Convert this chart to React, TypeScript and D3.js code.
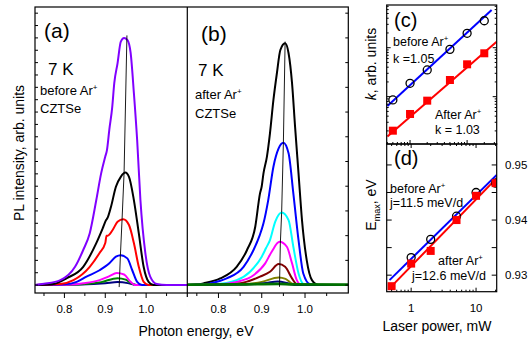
import React, { useEffect, useRef } from 'react';
import * as d3 from 'd3';

// ---- spectra, panel (a): before Ar+ (photon energy eV, PL intensity arb.)
const purpleA = [[0.728,0],[0.75,0.005],[0.79,0.02],[0.826,0.074],[0.846,0.142],[0.862,0.21],[0.878,0.344],[0.89,0.453],[0.9,0.52],[0.904,0.545],[0.91,0.63],[0.917,0.72],[0.922,0.817],[0.93,0.897],[0.938,0.985],[0.946,1.0],[0.954,0.992],[0.962,0.94],[0.97,0.777],[0.978,0.587],[0.986,0.344],[0.998,0.13],[1.01,0.034],[1.026,0.004],[1.05,0],[1.1,0]];
const blackA = [[0.728,0],[0.77,0.003],[0.806,0.028],[0.846,0.074],[0.878,0.17],[0.895,0.235],[0.902,0.263],[0.905,0.27],[0.914,0.317],[0.926,0.398],[0.938,0.438],[0.949,0.455],[0.958,0.438],[0.97,0.344],[0.982,0.21],[0.994,0.073],[1.006,0.013],[1.018,0],[1.1,0]];
const redA = [[0.728,0],[0.79,0.004],[0.822,0.02],[0.862,0.074],[0.886,0.13],[0.9,0.17],[0.903,0.2],[0.906,0.2],[0.918,0.223],[0.93,0.256],[0.944,0.266],[0.958,0.243],[0.97,0.17],[0.982,0.074],[0.994,0.013],[1.006,0],[1.1,0]];
const blueA = [[0.728,0],[0.8,0.003],[0.83,0.013],[0.854,0.034],[0.886,0.06],[0.91,0.088],[0.926,0.115],[0.938,0.121],[0.954,0.108],[0.966,0.06],[0.978,0.013],[0.99,0],[1.1,0]];
const magentaA = [[0.728,0],[0.82,0.002],[0.846,0.007],[0.886,0.02],[0.91,0.036],[0.928,0.049],[0.946,0.043],[0.962,0.013],[0.974,0],[1.1,0]];
const greenA = [[0.728,0],[0.83,0.002],[0.89,0.012],[0.93,0.028],[0.95,0.022],[0.965,0.006],[0.978,0],[1.1,0]];
const navyA = [[0.728,0],[0.84,0.002],[0.9,0.007],[0.93,0.012],[0.955,0.008],[0.97,0.002],[0.98,0],[1.1,0]];
const peakLineA = [[0.934,-0.008],[0.937,0.12],[0.941,0.263],[0.946,0.453],[0.953,1.01]];

// ---- spectra, panel (b): after Ar+
const blackB = [[0.728,0],[0.75,0.002],[0.765,0.007],[0.804,0.027],[0.842,0.074],[0.866,0.142],[0.885,0.236],[0.896,0.371],[0.9,0.4],[0.904,0.452],[0.912,0.52],[0.919,0.614],[0.927,0.749],[0.935,0.857],[0.943,0.951],[0.954,0.978],[0.962,0.938],[0.97,0.817],[0.977,0.641],[0.985,0.452],[0.993,0.263],[1.004,0.1],[1.016,0.02],[1.031,0],[1.1,0]];
const blueB = [[0.728,0],[0.76,0.002],[0.78,0.007],[0.819,0.027],[0.858,0.074],[0.881,0.142],[0.895,0.2],[0.904,0.25],[0.915,0.344],[0.927,0.479],[0.939,0.553],[0.95,0.576],[0.962,0.533],[0.973,0.371],[0.985,0.182],[0.996,0.047],[1.012,0.003],[1.03,0],[1.1,0]];
const cyanB = [[0.728,0],[0.79,0.003],[0.842,0.02],[0.873,0.054],[0.9,0.115],[0.91,0.15],[0.919,0.182],[0.931,0.256],[0.946,0.294],[0.962,0.263],[0.973,0.155],[0.985,0.047],[0.996,0.005],[1.01,0],[1.1,0]];
const magentaB = [[0.728,0],[0.8,0.003],[0.842,0.013],[0.881,0.04],[0.908,0.088],[0.923,0.135],[0.941,0.175],[0.958,0.155],[0.97,0.088],[0.981,0.02],[0.992,0],[1.1,0]];
const brownB = [[0.728,0],[0.82,0.003],[0.864,0.013],[0.896,0.034],[0.919,0.054],[0.939,0.085],[0.954,0.074],[0.97,0.027],[0.981,0.003],[0.99,0],[1.1,0]];
const oliveB = [[0.728,0],[0.84,0.002],[0.9,0.013],[0.939,0.031],[0.955,0.025],[0.97,0.006],[0.985,0],[1.1,0]];
const navyB = [[0.728,0],[0.86,0.002],[0.91,0.008],[0.937,0.015],[0.955,0.01],[0.97,0.002],[0.98,0],[1.1,0]];
const greenB = [[0.728,0.002],[0.85,0.003],[0.94,0.005],[0.97,0.003],[1.1,0.002]];
const peakLineB = [[0.941,-0.007],[0.943,0.17],[0.946,0.294],[0.95,0.576],[0.954,0.985]];

// ---- panel (c): k vs laser power
const powers = [0.5, 1, 2, 5, 10, 20];
const kBefore = [857, 1876, 3510, 9250, 19700, 35500];
const kAfter = [202, 443, 829, 2190, 4580, 7690];
const fitKBefore = [[0.402, 646], [26.9, 58700]];
const fitKAfter = [[0.402, 153], [32.9, 13300]];

// ---- panel (d): Emax vs laser power
const powersBeforeE = [1, 2, 5, 10, 20];
const emaxBefore = [0.9332, 0.9365, 0.9407, 0.945, 0.9467];
const emaxAfter = [0.928, 0.9321, 0.9344, 0.94, 0.9444, 0.9467];
const fitEBefore = [[0.464, 0.9291], [20.8, 0.9482]];
const fitEAfter = [[0.464, 0.9276], [20.8, 0.9476]];

const energyTicks = [0.75, 0.8, 0.85, 0.9, 0.95, 1.0, 1.05];
const energyLabels = [0.8, 0.9, 1.0];
const emaxTicks = [0.93, 0.935, 0.94, 0.945, 0.95];
const emaxLabels = [0.93, 0.94, 0.95];

const FONT = '"Liberation Sans", Arial, sans-serif';

const App = () => {
  const svgRef = useRef(null);

  useEffect(() => {
    const svg = d3.select(svgRef.current);
    svg.selectAll('*').remove();

    const xA = d3.scaleLinear().domain([0.728, 1.1]).range([35, 187]);
    const xB = d3.scaleLinear().domain([0.728, 1.1]).range([187.3, 348.3]);
    const yS = d3.scaleLinear().domain([-0.032, 1.125]).range([293, 7]);
    const xC = d3.scaleLog().domain([0.39, 33]).range([386.7, 496.7]);
    const yC = d3.scaleLog().domain([108, 74500]).range([144, 5]);
    const xD = d3.scaleLog().domain([0.42, 20.8]).range([386.7, 496.7]);
    const yD = d3.scaleLinear().domain([0.927, 0.9538]).range([291.7, 144]);

    const defs = svg.append('defs');
    const clip = (id, x, y, w, h) => defs.append('clipPath').attr('id', id)
      .append('rect').attr('x', x).attr('y', y).attr('width', w).attr('height', h);
    clip('clipA', 35, 7, 152, 286);
    clip('clipB', 187.3, 7, 161, 286);
    clip('clipC', 386.7, 5, 110, 139);
    clip('clipD', 386.7, 144, 110, 147.7);

    const txt = (x, y, s, size, anchor = 'start') => svg.append('text')
      .attr('x', x).attr('y', y).attr('text-anchor', anchor)
      .style('font-family', FONT).style('font-size', size + 'px').style('fill', '#000')
      .text(s);

    const arText = (x, y, word, size) => {
      const t = txt(x, y, word + ' Ar', size);
      t.append('tspan').attr('dy', -size * 0.42).style('font-size', (size * 0.62) + 'px').text('+');
      return t;
    };

    // spectra
    const specPanel = (curves, x, clipId, peakLine) => {
      const g = svg.append('g').attr('clip-path', `url(#${clipId})`);
      const line = d3.line().x(d => x(d[0])).y(d => yS(d[1])).curve(d3.curveMonotoneX);
      curves.forEach(c => {
        g.append('path').datum(c.data).attr('d', line)
          .attr('fill', 'none').attr('stroke', c.color)
          .attr('stroke-width', c.w || 2).attr('stroke-linejoin', 'round');
      });
      const pl = d3.line().x(d => x(d[0])).y(d => yS(d[1]));
      g.append('path').datum(peakLine).attr('d', pl)
        .attr('fill', 'none').attr('stroke', '#000').attr('stroke-width', 0.9);
    };

    specPanel([
      { data: navyA, color: '#000080' },
      { data: greenA, color: '#008000' },
      { data: magentaA, color: '#ff00ff' },
      { data: blueA, color: '#0000ff' },
      { data: redA, color: '#ff0000' },
      { data: blackA, color: '#000000' },
      { data: purpleA, color: '#8000ff' },
    ], xA, 'clipA', peakLineA);

    specPanel([
      { data: blackB, color: '#000000' },
      { data: blueB, color: '#0000ff' },
      { data: cyanB, color: '#00ffff' },
      { data: magentaB, color: '#ff00ff' },
      { data: brownB, color: '#800000' },
      { data: oliveB, color: '#808000' },
      { data: navyB, color: '#000080' },
      { data: greenB, color: '#007000', w: 2.6 },
    ], xB, 'clipB', peakLineB);

    const tick = (x1, y1, x2, y2) => svg.append('line')
      .attr('x1', x1).attr('y1', y1).attr('x2', x2).attr('y2', y2)
      .attr('stroke', '#000').attr('stroke-width', 1);

    // energy axes
    [xA, xB].forEach(x => {
      energyTicks.forEach(v => {
        const major = energyLabels.some(l => Math.abs(l - v) < 1e-6);
        tick(x(v), 293, x(v), 293 + (major ? 5 : 3));
      });
      energyLabels.forEach(v => txt(x(v), 313, d3.format('.1f')(v), 11.5, 'middle'));
    });
    d3.range(0, 1.11, 0.05).forEach(v => tick(35, yS(v), 38, yS(v)));
    d3.range(0, 1.11, 0.1).forEach(v => tick(348.3, yS(v), 345.3, yS(v)));

    // frames a, b
    svg.append('rect').attr('x', 35).attr('y', 7).attr('width', 313.3).attr('height', 286)
      .attr('fill', 'none').attr('stroke', '#000').attr('stroke-width', 1.2);
    svg.append('line').attr('x1', 187.3).attr('x2', 187.3).attr('y1', 7).attr('y2', 297)
      .attr('stroke', '#000').attr('stroke-width', 1.2);

    txt(44, 38, '(a)', 21);
    txt(48, 75, '7 K', 17);
    arText(40, 95, 'before', 13);
    txt(40, 113, 'CZTSe', 13);
    txt(201, 41, '(b)', 21);
    txt(198, 76, '7 K', 17);
    arText(195, 99, 'after', 13);
    txt(195, 118, 'CZTSe', 13);

    txt(19, 153, 'PL intensity, arb. units', 14, 'middle')
      .attr('transform', 'rotate(-90,19,153)').attr('dy', '0.35em');
    txt(196, 336, 'Photon energy, eV', 14, 'middle');

    // panel c
    const gc = svg.append('g').attr('clip-path', 'url(#clipC)');
    const lineC = d3.line().x(d => xC(d[0])).y(d => yC(d[1]));
    gc.append('path').datum(fitKBefore).attr('d', lineC).attr('stroke', '#0000ff').attr('stroke-width', 2).attr('fill', 'none');
    gc.append('path').datum(fitKAfter).attr('d', lineC).attr('stroke', '#ff0000').attr('stroke-width', 2).attr('fill', 'none');
    powers.forEach((p, i) => {
      gc.append('circle').attr('cx', xC(p)).attr('cy', yC(kBefore[i])).attr('r', 4)
        .attr('fill', 'none').attr('stroke', '#000').attr('stroke-width', 1.3);
      gc.append('rect').attr('x', xC(p) - 4).attr('y', yC(kAfter[i]) - 4)
        .attr('width', 8).attr('height', 8).attr('fill', '#ff0000');
    });
    // log ticks c
    [100, 1000, 10000].forEach(dec => {
      d3.range(1, 10).forEach(m => {
        const v = dec * m;
        if (v < 108 || v > 74500) return;
        const len = m === 1 ? 4 : 2;
        tick(386.7, yC(v), 386.7 + len, yC(v));
        tick(496.7, yC(v), 496.7 - len, yC(v));
      });
    });
    [0.1, 1, 10].forEach(dec => {
      d3.range(1, 10).forEach(m => {
        const v = dec * m;
        if (v < 0.39 || v > 33) return;
        tick(xC(v), 144, xC(v), 144 - (m === 1 ? 4 : 2));
      });
    });
    svg.append('rect').attr('x', 386.7).attr('y', 5).attr('width', 110).attr('height', 139)
      .attr('fill', 'none').attr('stroke', '#000').attr('stroke-width', 1.2);
    txt(394, 27, '(c)', 20);
    arText(393, 46, 'before', 12.5);
    txt(393, 63, 'k =1.05', 12.5);
    arText(435, 119, 'After', 12.5);
    txt(435, 134, 'k = 1.03', 12.5);
    const kl = txt(371, 64, '', 14, 'middle').attr('transform', 'rotate(-90,371,64)').attr('dy', '0.35em');
    kl.append('tspan').style('font-style', 'italic').text('k');
    kl.append('tspan').text(', arb. units');

    // panel d
    const gd = svg.append('g').attr('clip-path', 'url(#clipD)');
    const lineD = d3.line().x(d => xD(d[0])).y(d => yD(d[1]));
    gd.append('path').datum(fitEBefore).attr('d', lineD).attr('stroke', '#0000ff').attr('stroke-width', 2).attr('fill', 'none');
    gd.append('path').datum(fitEAfter).attr('d', lineD).attr('stroke', '#ff0000').attr('stroke-width', 2).attr('fill', 'none');
    powersBeforeE.forEach((p, i) => {
      gd.append('circle').attr('cx', xD(p)).attr('cy', yD(emaxBefore[i])).attr('r', 4)
        .attr('fill', 'none').attr('stroke', '#000').attr('stroke-width', 1.3);
    });
    powers.forEach((p, i) => {
      gd.append('rect').attr('x', xD(p) - 4).attr('y', yD(emaxAfter[i]) - 4)
        .attr('width', 8).attr('height', 8).attr('fill', '#ff0000');
    });
    emaxTicks.forEach(v => {
      tick(386.7, yD(v), 391.7, yD(v));
      tick(496.7, yD(v), 491.7, yD(v));
    });
    emaxLabels.forEach(v => txt(505, yD(v) + 4, d3.format('.2f')(v), 11.5));
    [0.1, 1, 10].forEach(dec => {
      d3.range(1, 10).forEach(m => {
        const v = dec * m;
        if (v < 0.42 || v > 20.8) return;
        const len = m === 1 ? 4 : 2;
        tick(xD(v), 291.7, xD(v), 291.7 - len);
        tick(xD(v), 144, xD(v), 144 + len);
      });
    });
    txt(xD(1), 312, '1', 11.5, 'middle');
    txt(xD(10), 312, '10', 11.5, 'middle');
    svg.append('rect').attr('x', 386.7).attr('y', 144).attr('width', 110).attr('height', 147.7)
      .attr('fill', 'none').attr('stroke', '#000').attr('stroke-width', 1.2);
    txt(394, 165, '(d)', 20);
    arText(390, 193, 'before', 12.5);
    txt(390, 207, 'j=11.5 meV/d', 12.5);
    arText(438, 265, 'after', 12.5);
    txt(412, 280, 'j=12.6 meV/d', 12.5);
    const el = txt(371, 205, '', 14, 'middle').attr('transform', 'rotate(-90,371,205)').attr('dy', '0.35em');
    el.append('tspan').text('E');
    el.append('tspan').attr('dy', 4).style('font-size', '9px').text('max');
    el.append('tspan').attr('dy', -4).text(', eV');
    txt(437, 331, 'Laser power, mW', 14, 'middle');
  }, []);

  return (
    <svg
      ref={svgRef}
      width={528}
      height={341}
      style={{ position: 'absolute', left: 0, top: 0, background: '#fff' }}
    />
  );
};

export default App;
